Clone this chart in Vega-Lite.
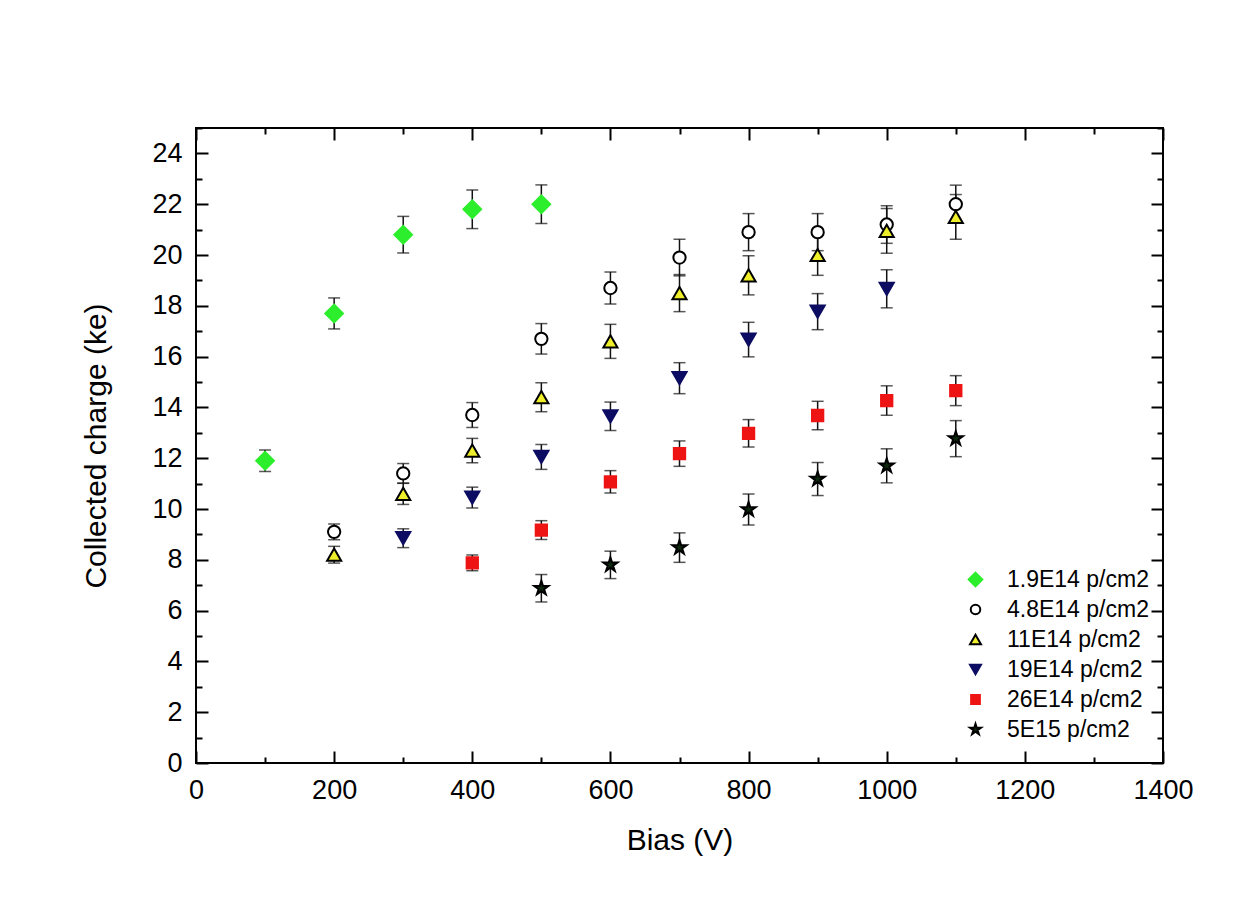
{
  "$schema": "https://vega.github.io/schema/vega-lite/v6.json",
  "width": 967,
  "height": 635,
  "autosize": {"type": "none"},
  "padding": {"left": 196, "top": 128, "right": 94, "bottom": 152},
  "background": "#ffffff",
  "config": {
    "view": {"stroke": "#000000", "strokeWidth": 2},
    "font": "Liberation Sans",
    "axis": {"grid": false, "domain": false, "tickColor": "#000000", "tickWidth": 2, "labelColor": "#000000", "titleColor": "#000000", "labelFont": "Liberation Sans", "titleFont": "Liberation Sans", "titleFontWeight": "normal"},
    "legend": {"labelFont": "Liberation Sans", "labelFontSize": 23, "labelColor": "#000000", "symbolStrokeWidth": 2, "symbolSize": 120, "rowPadding": 6, "labelOffset": 20, "padding": 0}
  },
  "data": {"values": [
    {"s": "1.9E14 p/cm2", "x": 100, "y": 11.9, "e": 0.42},
    {"s": "1.9E14 p/cm2", "x": 200, "y": 17.7, "e": 0.61},
    {"s": "1.9E14 p/cm2", "x": 300, "y": 20.8, "e": 0.72},
    {"s": "1.9E14 p/cm2", "x": 400, "y": 21.8, "e": 0.76},
    {"s": "1.9E14 p/cm2", "x": 500, "y": 22.0, "e": 0.76},
    {"s": "4.8E14 p/cm2", "x": 200, "y": 9.1, "e": 0.31},
    {"s": "4.8E14 p/cm2", "x": 300, "y": 11.4, "e": 0.39},
    {"s": "4.8E14 p/cm2", "x": 400, "y": 13.7, "e": 0.49},
    {"s": "4.8E14 p/cm2", "x": 500, "y": 16.7, "e": 0.6},
    {"s": "4.8E14 p/cm2", "x": 600, "y": 18.7, "e": 0.63},
    {"s": "4.8E14 p/cm2", "x": 700, "y": 19.9, "e": 0.72},
    {"s": "4.8E14 p/cm2", "x": 800, "y": 20.9, "e": 0.73},
    {"s": "4.8E14 p/cm2", "x": 900, "y": 20.9, "e": 0.73},
    {"s": "4.8E14 p/cm2", "x": 1000, "y": 21.2, "e": 0.74},
    {"s": "4.8E14 p/cm2", "x": 1100, "y": 22.0, "e": 0.75},
    {"s": "11E14 p/cm2", "x": 200, "y": 8.2, "e": 0.33},
    {"s": "11E14 p/cm2", "x": 300, "y": 10.6, "e": 0.42},
    {"s": "11E14 p/cm2", "x": 400, "y": 12.3, "e": 0.48},
    {"s": "11E14 p/cm2", "x": 500, "y": 14.4, "e": 0.57},
    {"s": "11E14 p/cm2", "x": 600, "y": 16.6, "e": 0.67},
    {"s": "11E14 p/cm2", "x": 700, "y": 18.5, "e": 0.73},
    {"s": "11E14 p/cm2", "x": 800, "y": 19.2, "e": 0.77},
    {"s": "11E14 p/cm2", "x": 900, "y": 20.0, "e": 0.8},
    {"s": "11E14 p/cm2", "x": 1000, "y": 20.95, "e": 0.88},
    {"s": "11E14 p/cm2", "x": 1100, "y": 21.5, "e": 0.88},
    {"s": "19E14 p/cm2", "x": 300, "y": 8.85, "e": 0.37},
    {"s": "19E14 p/cm2", "x": 400, "y": 10.45, "e": 0.41},
    {"s": "19E14 p/cm2", "x": 500, "y": 12.05, "e": 0.49},
    {"s": "19E14 p/cm2", "x": 600, "y": 13.65, "e": 0.56},
    {"s": "19E14 p/cm2", "x": 700, "y": 15.15, "e": 0.61},
    {"s": "19E14 p/cm2", "x": 800, "y": 16.67, "e": 0.68},
    {"s": "19E14 p/cm2", "x": 900, "y": 17.77, "e": 0.71},
    {"s": "19E14 p/cm2", "x": 1000, "y": 18.67, "e": 0.75},
    {"s": "26E14 p/cm2", "x": 400, "y": 7.88, "e": 0.31},
    {"s": "26E14 p/cm2", "x": 500, "y": 9.17, "e": 0.37},
    {"s": "26E14 p/cm2", "x": 600, "y": 11.07, "e": 0.44},
    {"s": "26E14 p/cm2", "x": 700, "y": 12.18, "e": 0.5},
    {"s": "26E14 p/cm2", "x": 800, "y": 12.98, "e": 0.54},
    {"s": "26E14 p/cm2", "x": 900, "y": 13.68, "e": 0.56},
    {"s": "26E14 p/cm2", "x": 1000, "y": 14.27, "e": 0.58},
    {"s": "26E14 p/cm2", "x": 1100, "y": 14.66, "e": 0.59},
    {"s": "5E15 p/cm2", "x": 500, "y": 6.88, "e": 0.54},
    {"s": "5E15 p/cm2", "x": 600, "y": 7.8, "e": 0.54},
    {"s": "5E15 p/cm2", "x": 700, "y": 8.48, "e": 0.58},
    {"s": "5E15 p/cm2", "x": 800, "y": 9.98, "e": 0.61},
    {"s": "5E15 p/cm2", "x": 900, "y": 11.18, "e": 0.65},
    {"s": "5E15 p/cm2", "x": 1000, "y": 11.7, "e": 0.67},
    {"s": "5E15 p/cm2", "x": 1100, "y": 12.77, "e": 0.71}
  ]},
  "resolve": {"axis": {"x": "independent", "y": "independent"}},
  "layer": [
    {
      "mark": {"type": "errorbar", "ticks": {"size": 12, "thickness": 1.5, "color": "#111111"}, "rule": {"strokeWidth": 1.5, "color": "#111111"}},
      "encoding": {
        "x": {"field": "x", "type": "quantitative", "scale": {"domain": [0, 1400], "nice": false}, "axis": null},
        "y": {"field": "y", "type": "quantitative", "scale": {"domain": [0, 25], "nice": false}, "axis": null},
        "yError": {"field": "e"}
      }
    },
    {
      "mark": {"type": "point", "filled": true, "strokeWidth": 2, "opacity": 1, "fillOpacity": 1, "size": 200},
      "encoding": {
        "x": {"field": "x", "type": "quantitative", "scale": {"domain": [0, 1400], "nice": false},
          "axis": {"orient": "bottom", "values": [0, 200, 400, 600, 800, 1000, 1200, 1400], "format": "d", "ticks": false, "labelFontSize": 27, "labelPadding": 14, "labelFlush": false, "labelOverlap": false, "title": "Bias (V)", "titleFontSize": 30, "titlePadding": 22}},
        "y": {"field": "y", "type": "quantitative", "scale": {"domain": [0, 25], "nice": false},
          "axis": {"orient": "left", "values": [0, 2, 4, 6, 8, 10, 12, 14, 16, 18, 20, 22, 24], "format": "d", "ticks": false, "labelFontSize": 27, "labelPadding": 14, "labelFlush": false, "labelOverlap": false, "title": "Collected charge (ke)", "titleFontSize": 30, "titlePadding": 40}},
        "fill": {"field": "s", "type": "nominal",
          "scale": {"domain": ["1.9E14 p/cm2", "4.8E14 p/cm2", "11E14 p/cm2", "19E14 p/cm2", "26E14 p/cm2", "5E15 p/cm2"], "range": ["#2cee2c", "#ffffff", "#eeee2a", "#0c0c62", "#ee1414", "#0e2a0e"]},
          "legend": {"title": null, "orient": "none", "legendX": 768, "legendY": 440}},
        "stroke": {"field": "s", "type": "nominal",
          "scale": {"domain": ["1.9E14 p/cm2", "4.8E14 p/cm2", "11E14 p/cm2", "19E14 p/cm2", "26E14 p/cm2", "5E15 p/cm2"], "range": ["#2cee2c", "#000000", "#000000", "#0c0c62", "#ee1414", "#000000"]},
          "legend": {"title": null, "orient": "none", "legendX": 768, "legendY": 440}},
        "shape": {"field": "s", "type": "nominal",
          "scale": {"domain": ["1.9E14 p/cm2", "4.8E14 p/cm2", "11E14 p/cm2", "19E14 p/cm2", "26E14 p/cm2", "5E15 p/cm2"], "range": ["M-1.25,0L0,-1.25L1.25,0L0,1.25Z", "M0.87,0A0.87,0.87 0 1,1 -0.87,0A0.87,0.87 0 1,1 0.87,0Z", "triangle-up", "triangle-down", "M-0.8,-0.8L0.8,-0.8L0.8,0.8L-0.8,0.8Z", "M0,-1.05L0.236,-0.324L0.999,-0.324L0.381,0.124L0.617,0.849L0,0.401L-0.617,0.849L-0.381,0.124L-0.999,-0.324L-0.236,-0.324Z"]},
          "legend": {"title": null, "orient": "none", "legendX": 768, "legendY": 440}}
      }
    },
    {
      "mark": {"type": "point", "opacity": 0},
      "encoding": {
        "x": {"field": "x", "type": "quantitative", "scale": {"domain": [0, 1400], "nice": false},
          "axis": {"orient": "bottom", "values": [0, 200, 400, 600, 800, 1000, 1200, 1400], "labels": false, "title": null, "tickSize": 12, "offset": -12}},
        "y": {"field": "y", "type": "quantitative", "scale": {"domain": [0, 25], "nice": false},
          "axis": {"orient": "left", "values": [0, 2, 4, 6, 8, 10, 12, 14, 16, 18, 20, 22, 24], "labels": false, "title": null, "tickSize": 12, "offset": -12}}
      }
    },
    {
      "mark": {"type": "point", "opacity": 0},
      "encoding": {
        "x": {"field": "x", "type": "quantitative", "scale": {"domain": [0, 1400], "nice": false},
          "axis": {"orient": "top", "values": [0, 200, 400, 600, 800, 1000, 1200, 1400], "labels": false, "title": null, "tickSize": 12, "offset": -12}},
        "y": {"field": "y", "type": "quantitative", "scale": {"domain": [0, 25], "nice": false},
          "axis": {"orient": "right", "values": [0, 2, 4, 6, 8, 10, 12, 14, 16, 18, 20, 22, 24], "labels": false, "title": null, "tickSize": 12, "offset": -12}}
      }
    },
    {
      "mark": {"type": "point", "opacity": 0},
      "encoding": {
        "x": {"field": "x", "type": "quantitative", "scale": {"domain": [0, 1400], "nice": false},
          "axis": {"orient": "bottom", "values": [100, 300, 500, 700, 900, 1100, 1300], "labels": false, "title": null, "tickSize": 6, "offset": -6}},
        "y": {"field": "y", "type": "quantitative", "scale": {"domain": [0, 25], "nice": false},
          "axis": {"orient": "left", "values": [1, 3, 5, 7, 9, 11, 13, 15, 17, 19, 21, 23, 25], "labels": false, "title": null, "tickSize": 6, "offset": -6}}
      }
    },
    {
      "mark": {"type": "point", "opacity": 0},
      "encoding": {
        "x": {"field": "x", "type": "quantitative", "scale": {"domain": [0, 1400], "nice": false},
          "axis": {"orient": "top", "values": [100, 300, 500, 700, 900, 1100, 1300], "labels": false, "title": null, "tickSize": 6, "offset": -6}},
        "y": {"field": "y", "type": "quantitative", "scale": {"domain": [0, 25], "nice": false},
          "axis": {"orient": "right", "values": [1, 3, 5, 7, 9, 11, 13, 15, 17, 19, 21, 23, 25], "labels": false, "title": null, "tickSize": 6, "offset": -6}}
      }
    }
  ]
}
